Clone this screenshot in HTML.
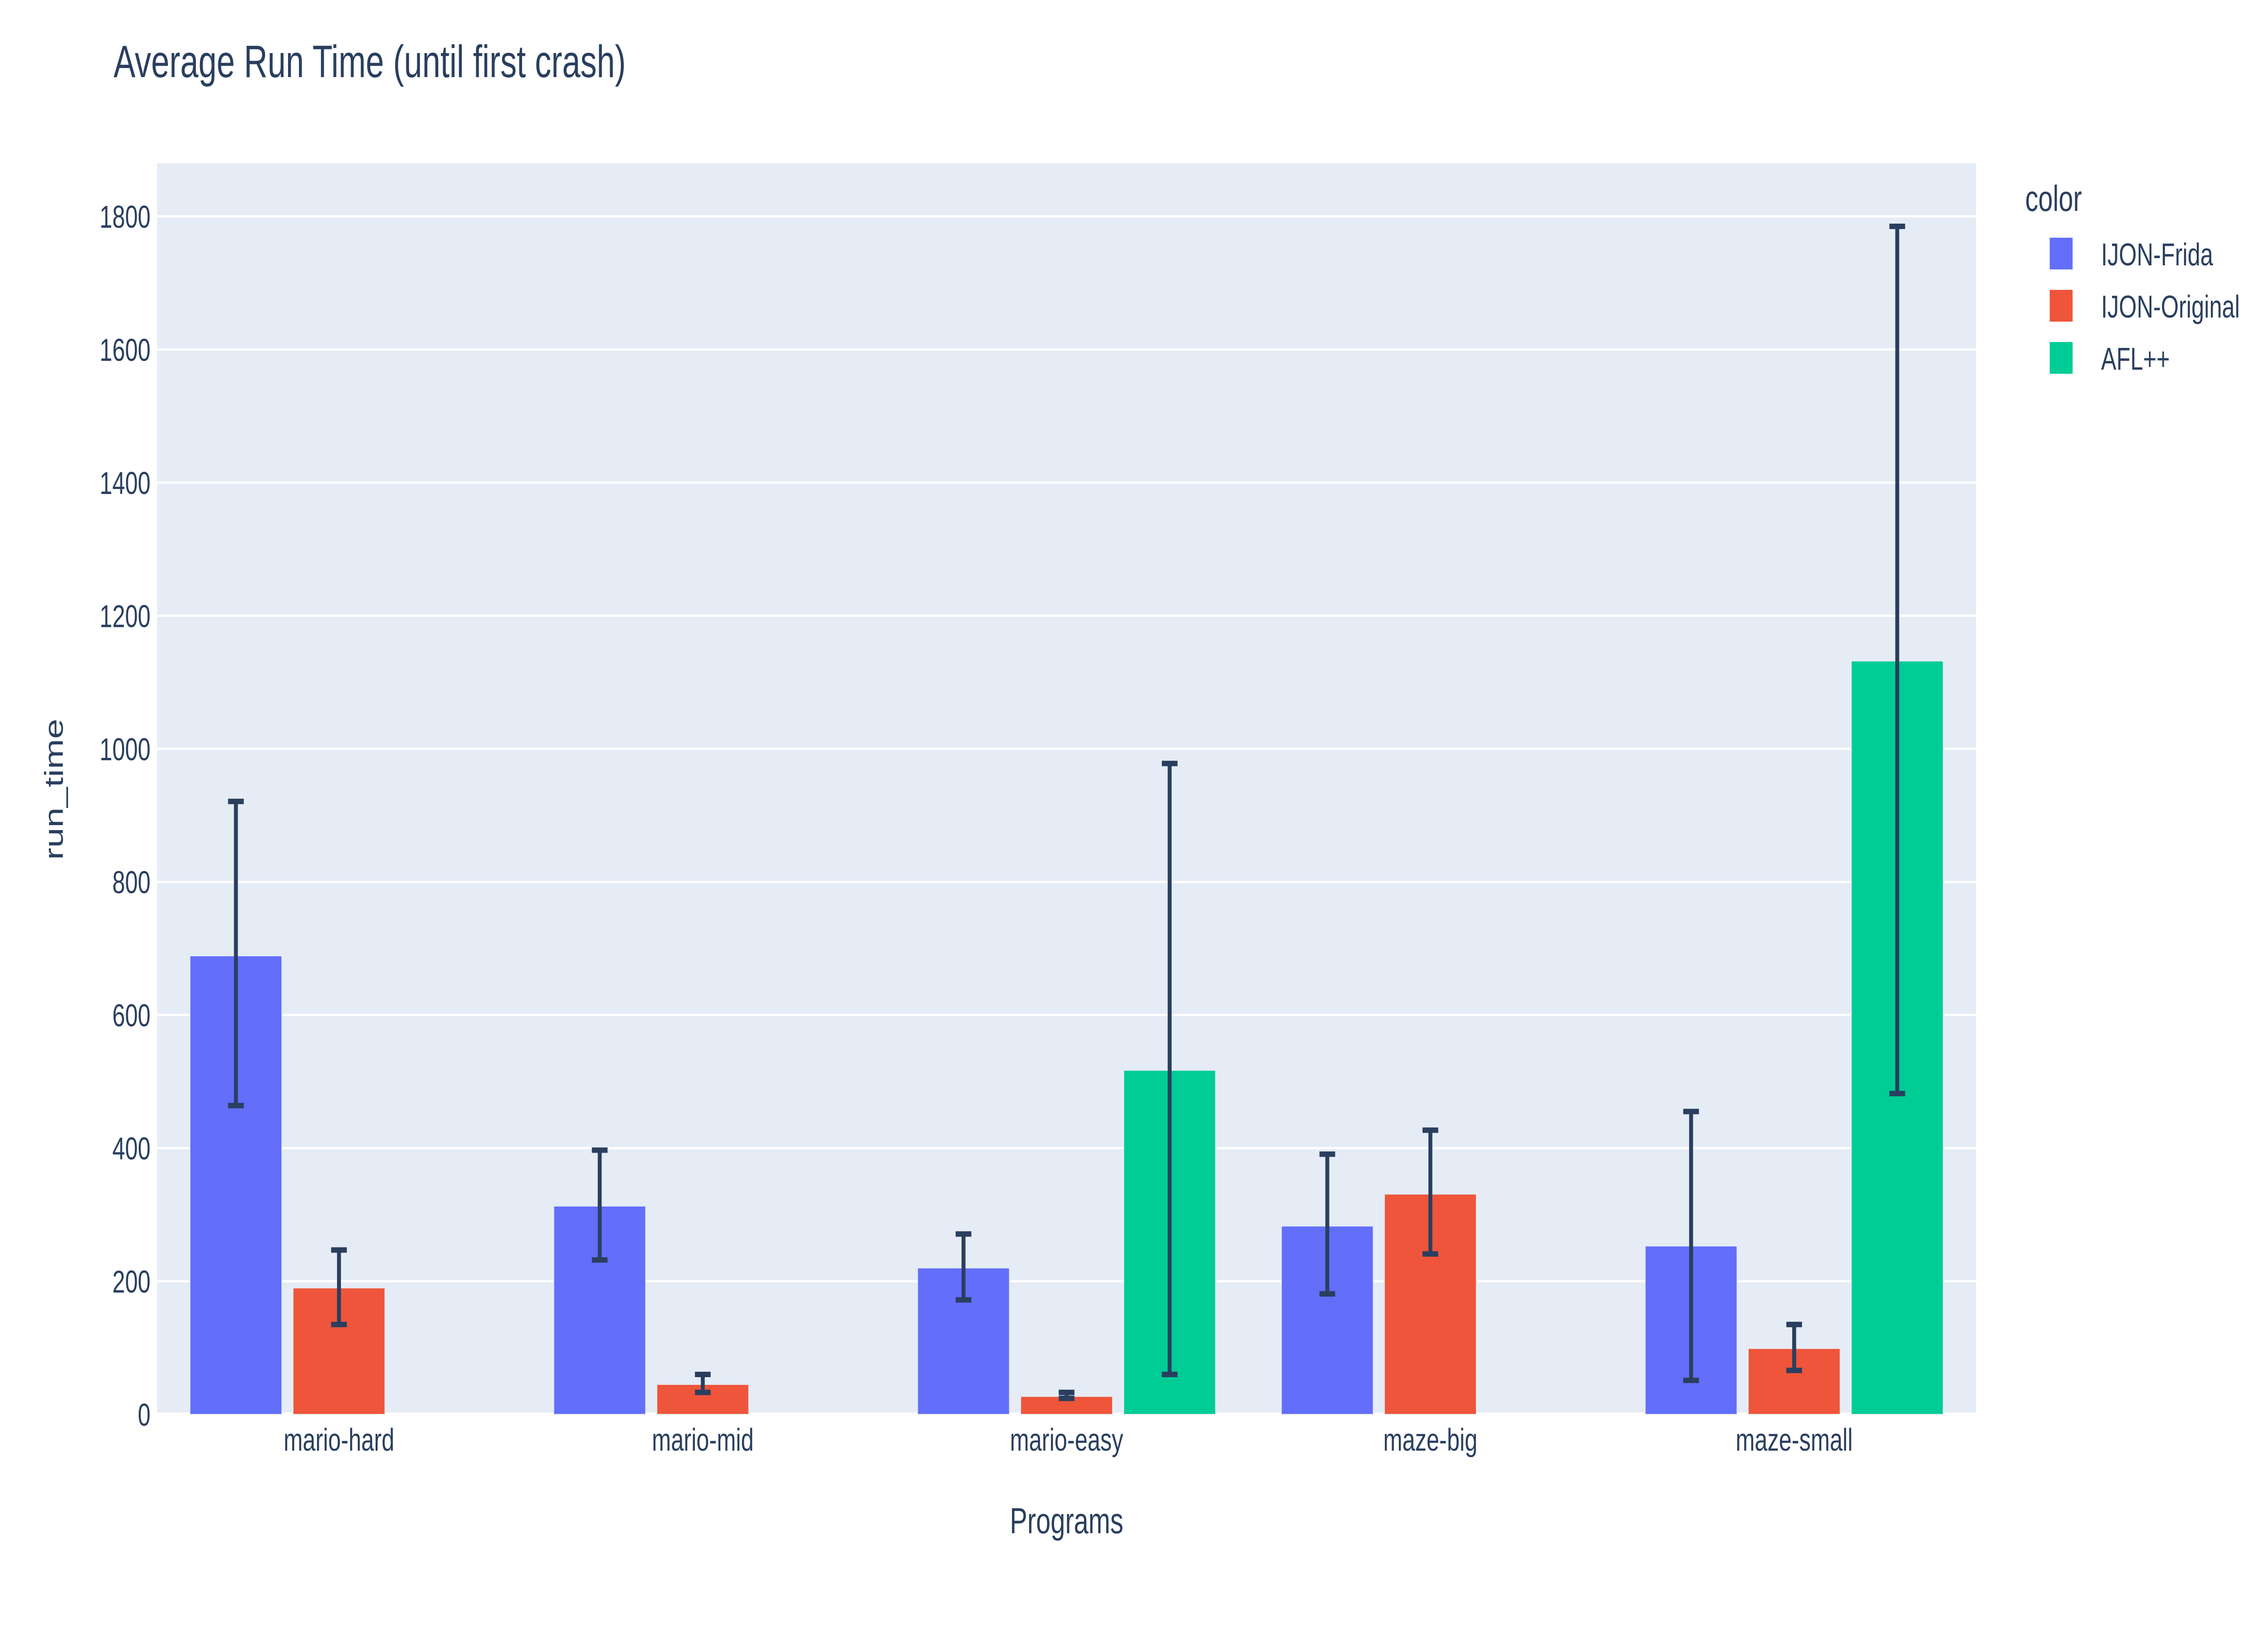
<!DOCTYPE html>
<html><head><meta charset="utf-8"><style>
html,body{margin:0;padding:0;background:#fff;width:100%;height:100%;overflow:hidden;}
svg{display:block;font-family:"Liberation Sans",sans-serif;width:100vw;height:100vh;}
</style></head><body>
<svg id="chart" viewBox="0 0 6930 3600" preserveAspectRatio="none">
<rect x="0" y="0" width="6930" height="3600" fill="#fff"/>
<text x="347" y="170" font-size="100" fill="#2a3f5f">Average Run Time (until first crash)</text>
<rect x="480" y="360" width="5558" height="2758" fill="#e5ecf6"/>
<g id="grid"></g>
<g id="bars"></g>
<g id="errs"></g>
<g id="yticks"></g>
<g id="xticks"></g>
<text x="3259" y="3380" font-size="80" fill="#2a3f5f" text-anchor="middle">Programs</text>
<text x="0" y="0" font-size="80" fill="#2a3f5f" text-anchor="middle" transform="translate(192,1740) rotate(-90)">run_time</text>
<g>
<text x="6188" y="465" font-size="80" fill="#2a3f5f">color</text>
<g><rect x="6263" y="524" width="70" height="70" fill="#636efa"/><text x="6420" y="585" font-size="70" fill="#2a3f5f">IJON-Frida</text></g>
<g><rect x="6263" y="639" width="70" height="70" fill="#ef553b"/><text x="6420" y="700" font-size="70" fill="#2a3f5f">IJON-Original</text></g>
<g><rect x="6263" y="754" width="70" height="70" fill="#00cc96"/><text x="6420" y="815" font-size="70" fill="#2a3f5f">AFL++</text></g>
</g>
</svg>
<script>
const categories = ["mario-hard","mario-mid","mario-easy","maze-big","maze-small"];
const seriesNames = ["IJON-Frida","IJON-Original","AFL++"];
const seriesColors = ["#636efa","#ef553b","#00cc96"];
const fridaValues = [689,313,220,283,253];
const fridaLow = [464,232,172,181,51];
const fridaHigh = [921,397,271,391,455];
const originalValues = [190,45,27,331,99];
const originalLow = [135,33,24,241,66];
const originalHigh = [247,60,33,427,135];
const aflValues = [null,null,517,null,1132];
const aflLow = [null,null,60,null,482];
const aflHigh = [null,null,978,null,1785];
const yTicks = [0,200,400,600,800,1000,1200,1400,1600,1800];

const NS = "http://www.w3.org/2000/svg";
const PL = 480, PR = 6038, Y0 = 3118, YS = 1.4672;
const cw = (PR - PL) / categories.length;
const slot = cw * 0.85 / 3;
const bw = slot * 0.89;
function yScale(v){ return Y0 - v * YS; }
function xCenter(i){ return PL + cw * (i + 0.5); }
function xBar(i, s){ return xCenter(i) + (s - 1) * slot; }
function mk(tag, attrs, parent){
  const e = document.createElementNS(NS, tag);
  for (const k in attrs) e.setAttribute(k, attrs[k]);
  parent.appendChild(e); return e;
}
const grid = document.getElementById("grid");
const yt = document.getElementById("yticks");
yTicks.forEach(t => {
  const l = mk("line", {x1:PL, x2:PR, y1:yScale(t), y2:yScale(t), stroke:"#fff", "stroke-width": t===0?8:5}, grid);
  
  
  const tx = mk("text", {x:460, y:yScale(t)+25, "font-size":70, fill:"#2a3f5f", "text-anchor":"end"}, yt);
  tx.textContent = t;
  
  
});
const xt = document.getElementById("xticks");
categories.forEach((c, i) => {
  const tx = mk("text", {x:xCenter(i), y:3198, "font-size":70, fill:"#2a3f5f", "text-anchor":"middle"}, xt);
  tx.textContent = c;
  
  
});
const vals = [fridaValues, originalValues, aflValues];
const lows = [fridaLow, originalLow, aflLow];
const highs = [fridaHigh, originalHigh, aflHigh];
const bars = document.getElementById("bars");
const errs = document.getElementById("errs");
vals.forEach((arr, s) => {
  arr.forEach((v, i) => {
    if (v === null) return;
    const cx = xBar(i, s);
    const r = mk("rect", {x:cx - bw/2, y:yScale(v), width:bw, height:Y0 - yScale(v), fill:seriesColors[s], stroke:"#e5ecf6", "stroke-width":2}, bars);
    
    
    const lo = yScale(lows[s][i]), hi = yScale(highs[s][i]);
    const g = mk("path", {d:`M${cx},${lo}V${hi}M${cx-24},${hi}H${cx+24}M${cx-24},${lo}H${cx+24}`, stroke:"#2a3f5f", "stroke-width":12, fill:"none"}, errs);
    
    
  });
});
</script>
</body></html>
